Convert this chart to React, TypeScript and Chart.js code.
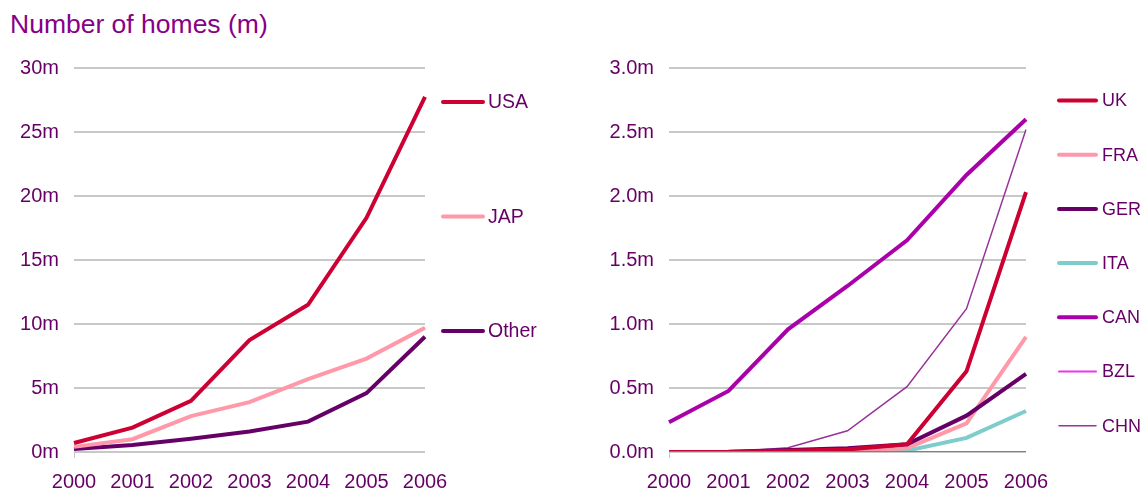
import React, { useEffect, useRef } from "react";
import { Chart, registerables } from "chart.js";

Chart.register(...registerables);

const years = ["2000", "2001", "2002", "2003", "2004", "2005", "2006"];

// Left chart (millions)
const usa = [0.7, 1.9, 4.0, 8.75, 11.5, 18.3, 27.75];
const jap = [0.4, 1.0, 2.8, 3.9, 5.7, 7.3, 9.7];
const other = [0.23, 0.55, 1.04, 1.6, 2.37, 4.6, 9.0];

// Right chart (millions)
const uk = [0.0, 0.0, 0.01, 0.02, 0.06, 0.63, 2.03];
const fra = [0.0, 0.0, 0.005, 0.01, 0.03, 0.224, 0.9];
const ger = [0.0, 0.002, 0.015, 0.03, 0.06, 0.284, 0.61];
const ita = [0.0, 0.0, 0.0, 0.0, 0.01, 0.11, 0.32];
const can = [0.232, 0.477, 0.958, 1.297, 1.654, 2.164, 2.6];
const bzl = [0.0, 0.0, 0.0, 0.0, 0.0, 0.0, 0.0];
const chn = [0.0, 0.0, 0.034, 0.166, 0.51, 1.12, 2.52];

const leftTicks = [0, 5, 10, 15, 20, 25, 30];
const rightTicks = [0, 0.5, 1.0, 1.5, 2.0, 2.5, 3.0];

const TEXT = "#660066";
const FONT = "Liberation Sans, Arial, sans-serif";

const legendPlugin = {
  id: "sideLegend",
  afterDraw(chart: any, _args: any, opts: any) {
    const { ctx, chartArea } = chart;
    ctx.save();
    chart.data.datasets.forEach((ds: any, i: number) => {
      const y = opts.top + i * opts.spacing;
      ctx.beginPath();
      ctx.strokeStyle = ds.borderColor;
      ctx.lineWidth = ds.borderWidth;
      ctx.lineCap = "round";
      ctx.moveTo(chartArea.right + opts.lineStart, y);
      ctx.lineTo(chartArea.right + opts.lineEnd, y);
      ctx.stroke();
      ctx.fillStyle = TEXT;
      ctx.font = `${opts.fontSize}px ${FONT}`;
      ctx.textBaseline = "middle";
      ctx.textAlign = "left";
      ctx.fillText(ds.label, chartArea.right + opts.textX, y + 1);
    });
    ctx.restore();
  },
};

function makeOptions(
  ticks: number[],
  fmt: (v: number) => string,
  yWidth: number,
  padRight: number,
  legend: any
) {
  return {
    responsive: false,
    maintainAspectRatio: false,
    animation: false as const,
    layout: { padding: { top: 68, right: padRight, bottom: 0, left: 0 } },
    elements: { point: { radius: 0 }, line: { tension: 0 } },
    plugins: {
      legend: { display: false },
      tooltip: { enabled: false },
      title: { display: false },
      sideLegend: legend,
    },
    scales: {
      x: {
        type: "category" as const,
        offset: false,
        border: { display: false },
        grid: {
          drawOnChartArea: false,
          drawTicks: true,
          tickLength: 6,
          lineWidth: 1,
          color: (c: any) => (c.index === 0 ? "#c8c8c8" : "rgba(0,0,0,0)"),
        },
        ticks: {
          color: TEXT,
          font: { family: FONT, size: 20 },
          padding: 12,
          maxRotation: 0,
          autoSkip: false,
        },
        afterFit: (s: any) => {
          s.height = 41;
        },
      },
      y: {
        min: ticks[0],
        max: ticks[ticks.length - 1],
        afterBuildTicks: (s: any) => {
          s.ticks = ticks.map((v) => ({ value: v }));
        },
        border: { display: false },
        grid: {
          drawTicks: false,
          color: "#c8c8c8",
          lineWidth: 2,
        },
        ticks: {
          color: TEXT,
          font: { family: FONT, size: 20 },
          padding: 15,
          callback: (v: any) => fmt(Number(v)),
        },
        afterFit: (s: any) => {
          s.width = yWidth;
        },
      },
    },
  };
}

function LeftChart() {
  const ref = useRef<HTMLCanvasElement>(null);
  useEffect(() => {
    const chart = new Chart(ref.current!, {
      type: "line",
      data: {
        labels: years,
        datasets: [
          { label: "USA", data: usa, borderColor: "#cc0033", borderWidth: 4 },
          { label: "JAP", data: jap, borderColor: "#ff99aa", borderWidth: 4 },
          { label: "Other", data: other, borderColor: "#660066", borderWidth: 4 },
        ],
      },
      options: makeOptions(leftTicks, (v) => `${v}m`, 74, 135, {
        top: 102,
        spacing: 114.5,
        lineStart: 18,
        lineEnd: 58,
        textX: 63,
        fontSize: 19.5,
      }) as any,
      plugins: [legendPlugin],
    });
    return () => chart.destroy();
  }, []);
  return (
    <canvas
      ref={ref}
      width={560}
      height={493}
      style={{ position: "absolute", left: 0, top: 0, display: "block" }}
    />
  );
}

function RightChart() {
  const ref = useRef<HTMLCanvasElement>(null);
  useEffect(() => {
    const chart = new Chart(ref.current!, {
      type: "line",
      data: {
        labels: years,
        datasets: [
          { label: "UK", data: uk, borderColor: "#cc0033", borderWidth: 4, order: 2 },
          { label: "FRA", data: fra, borderColor: "#ff99aa", borderWidth: 4, order: 4 },
          { label: "GER", data: ger, borderColor: "#660066", borderWidth: 4, order: 3 },
          { label: "ITA", data: ita, borderColor: "#7fcccc", borderWidth: 4, order: 5 },
          { label: "CAN", data: can, borderColor: "#aa00aa", borderWidth: 4, order: 1 },
          { label: "BZL", data: bzl, borderColor: "#ee33ee", borderWidth: 2, order: 0 },
          { label: "CHN", data: chn, borderColor: "#993399", borderWidth: 1.5, order: 6 },
        ],
      },
      options: makeOptions(rightTicks, (v) => `${v.toFixed(1)}m`, 109, 117, {
        top: 100.5,
        spacing: 54.2,
        lineStart: 33,
        lineEnd: 70,
        textX: 76,
        fontSize: 18,
      }) as any,
      plugins: [legendPlugin],
    });
    return () => chart.destroy();
  }, []);
  return (
    <canvas
      ref={ref}
      width={583}
      height={493}
      style={{ position: "absolute", left: 560, top: 0, display: "block" }}
    />
  );
}

export default function App() {
  return (
    <div
      style={{
        position: "absolute",
        left: 0,
        top: 0,
        width: 1143,
        height: 493,
        background: "#ffffff",
        overflow: "hidden",
      }}
    >
      <div
        style={{
          position: "absolute",
          left: 10,
          top: 9,
          fontFamily: FONT,
          fontSize: 26.5,
          color: "#880088",
          whiteSpace: "nowrap",
        }}
      >
        Number of homes (m)
      </div>
      <LeftChart />
      <RightChart />
    </div>
  );
}
